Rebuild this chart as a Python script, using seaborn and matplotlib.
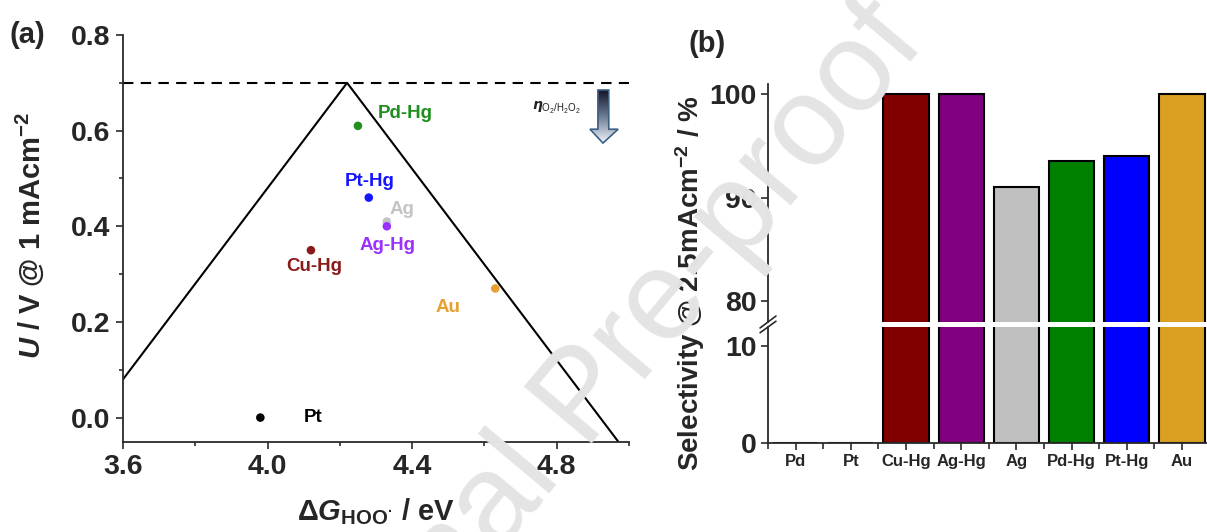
import numpy as np
import pandas as pd
import seaborn as sns
import matplotlib.pyplot as plt
from matplotlib.patches import Polygon

sns.set_theme(style="ticks")
plt.rcParams['font.family'] = ['Liberation Sans', 'DejaVu Sans']
plt.rcParams['font.weight'] = 'bold'
plt.rcParams['axes.labelweight'] = 'bold'
plt.rcParams['mathtext.fontset'] = 'custom'
plt.rcParams['mathtext.rm'] = 'Liberation Sans:bold'
plt.rcParams['mathtext.it'] = 'Liberation Sans:italic:bold'
plt.rcParams['mathtext.bf'] = 'Liberation Sans:bold'

# (a) volcano plot data
catalysts = ["Pd-Hg", "Pt-Hg", "Ag", "Ag-Hg", "Cu-Hg", "Au", "Pt"]
dg_hoo = [4.25, 4.28, 4.33, 4.33, 4.12, 4.63, 3.98]
onset_u = [0.61, 0.46, 0.41, 0.40, 0.35, 0.27, 0.00]
point_colors = ["#1f8f1f", "#1515ff", "#c4c4c4", "#9b30ff", "#8b1a1a", "#e8a030", "#000000"]
volcano_dg = [3.60, 4.22, 4.97]
volcano_u = [0.08, 0.70, -0.05]
u_eq = 0.70

# (b) selectivity data
materials = ["Pd", "Pt", "Cu-Hg", "Ag-Hg", "Ag", "Pd-Hg", "Pt-Hg", "Au"]
selectivity = [0, 0, 100, 100, 91.0, 93.5, 94.0, 100]
bar_colors = ["#000000", "#000000", "#800000", "#800080", "#c0c0c0", "#008000", "#0000ff", "#dba021"]

W, H = 1207, 532
fig = plt.figure(figsize=(W / 100, H / 100), dpi=100)

def px_axes(x0, x1, y0, y1):
    return fig.add_axes([x0 / W, 1 - y1 / H, (x1 - x0) / W, (y1 - y0) / H])

spine_c = "#2a2a2a"

# ---------- panel (a)
ax = px_axes(123, 629, 35, 441.5)
df = pd.DataFrame({"dg": dg_hoo, "u": onset_u, "cat": catalysts})
sns.lineplot(x=volcano_dg, y=volcano_u, sort=False, estimator=None, color="black", lw=1.5, ax=ax)
ax.axhline(u_eq, color="black", lw=1.5, ls=(0, (5, 3.5)))
sns.scatterplot(data=df, x="dg", y="u", hue="cat", palette=dict(zip(catalysts, point_colors)),
                s=38, edgecolor="none", legend=False, ax=ax, zorder=3)

label_pos = {"Pd-Hg": (4.382, 0.636), "Pt-Hg": (4.283, 0.493), "Ag": (4.371, 0.435),
             "Ag-Hg": (4.332, 0.36), "Cu-Hg": (4.128, 0.315), "Au": (4.50, 0.231), "Pt": (4.125, 0.0)}
for cat, col in zip(catalysts, point_colors):
    lx, ly = label_pos[cat]
    ax.text(lx, ly, cat, color=col, fontsize=13.5, ha="center", va="center")

# gradient arrow for overpotential
arrow = Polygon([(4.914, 0.685), (4.944, 0.685), (4.944, 0.603), (4.970, 0.603),
                 (4.928, 0.574), (4.892, 0.603), (4.914, 0.603)], closed=True,
                facecolor="none", edgecolor="#3d5f86", lw=1.2, transform=ax.transData, zorder=5)
ax.add_patch(arrow)
grad = np.linspace(0, 1, 100).reshape(-1, 1)
im = ax.imshow(grad, cmap=sns.blend_palette(["#111122", "#6a7a90", "#eef3fa"], as_cmap=True),
               extent=[4.89, 4.97, 0.574, 0.685], aspect="auto", origin="upper", zorder=4)
im.set_clip_path(arrow)
ax.text(4.80, 0.648, r"$\eta_{\mathregular{O_2/H_2O_2}}$", fontsize=10, ha="center", va="center",
        color="#222222", fontweight="normal", math_fontfamily="dejavusans")

ax.set_xlim(3.6, 5.0)
ax.set_ylim(-0.05, 0.8)
ax.set_xticks([3.6, 4.0, 4.4, 4.8])
ax.set_xticks([3.8, 4.2, 4.6, 5.0], minor=True)
ax.set_yticks([0.0, 0.2, 0.4, 0.6, 0.8])
ax.set_yticks([0.1, 0.3, 0.5, 0.7], minor=True)
ax.set_xticklabels(["3.6", "4.0", "4.4", "4.8"])
ax.set_yticklabels(["0.0", "0.2", "0.4", "0.6", "0.8"])
ax.tick_params(which="major", labelsize=20.5, length=5, width=1.2, color=spine_c, pad=4)
ax.tick_params(which="minor", length=3, width=1.2, color=spine_c)
sns.despine(ax=ax)
for s in ["left", "bottom"]:
    ax.spines[s].set_linewidth(1.3)
    ax.spines[s].set_color(spine_c)
ax.set_xlabel("$\\Delta\\mathit{G}_{\\mathregular{HOO^{\u00b7}}}$ / eV", fontsize=21, fontweight="bold")
ax.xaxis.set_label_coords(0.5, -0.135)
ax.xaxis.label.set_va("top")
ax.set_ylabel("")
fig.text(27 / W, 1 - 35 / H, "(a)", fontsize=21, ha="center", va="center")
fig.text(30 / W, 1 - 235 / H, r"$\mathit{U}$ / V @ 1 mAcm$^{-2}$", fontsize=21,
         rotation=90, ha="center", va="center")

# ---------- panel (b), broken y axis
ax_top = px_axes(768, 1209.6, 83.7, 322)
ax_bot = px_axes(768, 1209.6, 327, 442.7)
for a in (ax_top, ax_bot):
    sns.barplot(x=materials, y=selectivity, hue=materials, palette=bar_colors, legend=False,
                saturation=1, width=0.82, edgecolor="black", linewidth=1.5, ax=a)
    a.set_xlim(-0.5, 7.5)
    a.set_xlabel("")
    a.set_ylabel("")
    for s in ["left", "bottom"]:
        a.spines[s].set_linewidth(1.3)
        a.spines[s].set_color(spine_c)
    a.tick_params(axis="y", labelsize=20.5, length=5, width=1.2, color=spine_c, pad=3)
ax_top.set_ylim(78, 101)
ax_top.set_yticks([80, 90, 100])
sns.despine(ax=ax_top, bottom=True)
ax_top.tick_params(axis="x", bottom=False, labelbottom=False)
ax_bot.set_ylim(0, 12)
ax_bot.set_yticks([0, 10])
sns.despine(ax=ax_bot)
ax_bot.set_xticks(np.arange(-0.5, 8, 1), minor=True)
ax_bot.tick_params(axis="x", which="major", labelsize=12, length=5, width=1.2, color=spine_c, pad=3)
ax_bot.tick_params(axis="x", which="minor", length=4, width=1.2, color=spine_c)

# break marks
kw = dict(color=spine_c, lw=1.2, clip_on=False)
ax_top.plot([-0.018, 0.018], [-0.025, 0.025], transform=ax_top.transAxes, **kw)
ax_bot.plot([-0.018, 0.018], [0.95, 1.05], transform=ax_bot.transAxes, **kw)

fig.text(707 / W, 1 - 44 / H, "(b)", fontsize=21, ha="center", va="center")
fig.text(690 / W, 1 - 283 / H, r"Selectivity @ 2.5mAcm$^{-2}$ / %", fontsize=20,
         rotation=90, ha="center", va="center")

# watermark
fig.text(585 / W, 1 - 400 / H, "Journal Pre-proof", fontsize=92, fontweight="normal",
         color="#e4e4e4", rotation=50, ha="center", va="center", rotation_mode="anchor", zorder=100)

fig.savefig("out.png", dpi=100)
